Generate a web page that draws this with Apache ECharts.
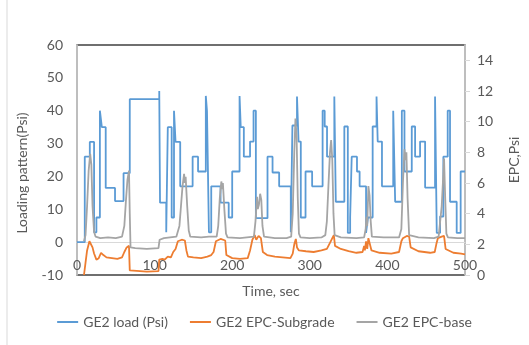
<!DOCTYPE html>
<html>
<head>
	<meta charset="utf-8">
	<title>GE2 loading pattern</title>
	<script src="https://cdn.jsdelivr.net/npm/echarts@6.0.0/dist/echarts.min.js"></script>
	<style type="text/css">
		* {
			margin: 0;
			padding: 0;
		}

		body {
			background: #fff;
			overflow: hidden;
		}
	</style>
</head>
<body>
<div id="main" style="width: 529px;height: 345px;"></div>
<script type="text/javascript">
    // [time (sec), value]
    var loadData = [
        [0, 0], [10, 26], [16.5, 30.5], [22, 3], [25, 7.5], [29.5, 40], [32, 35], [37, 16.5], [49, 12.5], [60, 21],
        [68, 43.5], [106, 46], [107, 12], [115, 3], [117, 35], [122, 7.5], [125, 40], [127, 30.5], [133, 17], [149, 26],
        [156, 21.5], [166, 44.5], [167.5, 40], [170, 3], [173, 17], [185, 12], [195.5, 7.5], [200, 21.5], [209.5, 44.5], [211, 35],
        [215, 26], [223, 30.6], [227.5, 40], [230.5, 7.3], [245.5, 26], [252, 21.2], [260.5, 17], [275.5, 3], [277.6, 35.5], [283.5, 44.3],
        [285.5, 30.6], [288.4, 7.5], [294.5, 21.5], [303, 17], [316.5, 40], [319.2, 35.2], [322.2, 26], [331.6, 44.3], [333.5, 12.3], [344.5, 35.2],
        [349, 2.8], [352, 7.6], [354, 26], [360.8, 21.5], [364.2, 17], [372.5, 2.8], [375, 7.5], [381, 35.2], [386, 44.3], [387.5, 30.6],
        [393, 17], [407.5, 40], [410, 12.3], [418.6, 40], [422, 21.5], [431.4, 35.2], [435.7, 26], [442.1, 30.6], [448.6, 16.6], [461.4, 44.3],
        [463.6, 2.8], [467.9, 7.8], [472.1, 26], [477.7, 40], [480.7, 12.3], [489.3, 2.8], [494.4, 21.5], [500, 21.5]
    ];
    var subgradeData = [
        [9, 0], [11, 0.8], [13, 1.6], [16, 2.2], [18, 2.25], [20, 1.8], [22, 1.4], [25, 1.0], [28, 1.1], [31, 1.45],
        [34, 1.3], [38, 1.15], [45, 1.1], [52, 1.05], [58, 1.15], [61, 1.5], [64, 1.8], [67, 1.9], [68, 0.3], [70, 0.25],
        [90, 0.22], [105, 0.25], [106, 1.0], [110, 1.05], [113, 1.0], [117, 1.2], [121, 1.15], [124, 1.5], [127, 1.7], [130, 2.2],
        [135, 2.3], [139, 2.25], [141, 1.6], [143, 1.2], [150, 1.15], [160, 1.1], [168, 1.2], [173, 1.3], [176, 1.5], [179, 2.2],
        [185, 2.35], [191, 2.25], [192.5, 1.3], [200, 1.1], [210, 1.05], [220, 1.1], [223, 1.6], [226, 2.3], [229, 2.6], [231, 2.3],
        [234, 2.55], [237, 2.4], [239.5, 1.5], [245, 1.3], [255, 1.2], [265, 1.15], [275, 1.1], [278, 1.4], [280, 2.0], [282, 2.35],
        [283.5, 1.8], [286, 1.6], [295, 1.55], [305, 1.5], [315, 1.6], [322, 1.7], [326, 2.1], [329, 2.4], [331, 2.6], [332.5, 1.9],
        [340, 1.7], [350, 1.55], [360, 1.45], [368, 1.5], [370, 1.9], [371, 1.6], [372.5, 2.2], [374, 1.7], [375.5, 2.4], [378, 2.3],
        [379.5, 1.6], [390, 1.45], [405, 1.4], [415, 1.5], [418, 2.2], [420, 2.4], [425, 2.55], [428, 2.5], [430, 1.8], [440, 1.55],
        [455, 1.45], [461, 1.5], [463, 2.0], [465, 2.4], [470, 2.5], [473, 2.55], [475, 1.7], [485, 1.45], [495, 1.4], [500, 1.35]
    ];
    var baseData = [
        [9, 2.2], [11, 2.6], [13, 4.5], [15, 6.8], [17, 7.9], [18.5, 7.2], [20, 4.5], [22, 2.8], [24, 2.5], [30, 2.4],
        [40, 2.45], [50, 2.4], [58, 2.5], [61, 3.2], [63, 4.8], [65, 6.2], [67, 6.8], [68, 4], [69, 1.8], [75, 1.75],
        [90, 1.7], [105, 1.75], [106.5, 2.3], [112, 2.4], [120, 2.45], [128, 2.5], [132, 3.2], [134, 4.5], [136, 5.8], [138, 6.6],
        [139, 6.0], [140, 6.4], [142, 4.5], [144, 2.9], [146, 2.5], [160, 2.45], [170, 2.5], [180, 2.5], [182, 3.2], [184, 5],
        [186, 6.1], [187.5, 5.6], [188, 6.0], [190, 4.2], [192, 2.7], [194, 2.45], [210, 2.4], [228, 2.5], [230, 3.5], [232, 5.1],
        [233, 4.3], [234.5, 4.6], [236, 5.3], [237.5, 4.9], [239, 3.2], [241, 2.5], [255, 2.4], [270, 2.4], [276, 2.5], [278, 4],
        [280, 8], [281.5, 10.2], [283, 9], [284.5, 5], [286, 2.7], [288, 2.45], [300, 2.4], [315, 2.45], [320, 2.6], [322, 3.5],
        [324, 5.8], [326, 8], [327.5, 8.8], [329, 7.5], [330.5, 4], [332, 2.6], [340, 2.45], [360, 2.4], [370, 2.45], [372, 3.0],
        [373, 3.8], [374, 3.2], [375.5, 5.8], [377, 5.2], [378.5, 3.5], [380, 2.5], [395, 2.45], [415, 2.45], [418, 3], [420, 6],
        [422, 8.2], [423, 7.5], [424.5, 8], [426, 5], [428, 2.6], [440, 2.45], [460, 2.4], [466, 2.5], [468, 3.5], [470, 4.5],
        [471, 4.6], [472, 6.5], [473, 7.6], [474.5, 5], [476, 2.7], [478, 2.45], [490, 2.4], [500, 2.4]
    ];
    var seriesNames = ['GE2 load (Psi)', 'GE2 EPC-Subgrade', 'GE2 EPC-base'];
    var colorL = ['#5B9BD5', '#ED7D31', '#A5A5A5'];

    var myChart = echarts.init(document.getElementById('main'));
    var textColor = '#595959';
    var fontName = 'Lato';

    option = {
        animation: false,
        textStyle: {
            fontFamily: fontName
        },
        grid: {
            left: 77,
            right: 63,
            top: 45,
            bottom: 70,
            show: true,
            borderColor: '#404040',
            borderWidth: 1.5
        },
        // thin frame line on the left of the chart area
        graphic: [{
            type: 'line',
            shape: {x1: 7, y1: 0, x2: 7, y2: 345},
            style: {stroke: '#D9D9D9', lineWidth: 1}
        }],
        legend: {
            bottom: 11,
            left: 'center',
            itemWidth: 21,
            itemHeight: 2,
            itemGap: 22,
            icon: 'rect',
            textStyle: {
                color: textColor,
                fontSize: 14,
                fontFamily: fontName
            },
            data: seriesNames
        },
        xAxis: {
            type: 'value',
            min: 0,
            max: 500,
            interval: 100,
            // axis sits on the 0 line of the left axis (10 of 70 units above the bottom)
            offset: -33,
            name: 'Time, sec',
            nameLocation: 'middle',
            nameGap: 42,
            nameTextStyle: {
                color: textColor,
                fontSize: 14
            },
            axisLine: {
                onZero: false,
                lineStyle: {
                    color: '#D9D9D9',
                    width: 1
                }
            },
            axisTick: {
                show: false
            },
            axisLabel: {
                margin: 16,
                color: textColor,
                fontSize: 14
            },
            splitLine: {
                show: false
            }
        },
        yAxis: [{
            type: 'value',
            min: -10,
            max: 60,
            interval: 10,
            name: 'Loading pattern(Psi)',
            nameLocation: 'middle',
            nameGap: 48,
            nameTextStyle: {
                color: textColor,
                fontSize: 14,
                padding: [0, 26, 0, 0]
            },
            axisLine: {
                show: true,
                lineStyle: {
                    color: '#D9D9D9',
                    width: 1.5
                }
            },
            axisTick: {
                show: false
            },
            axisLabel: {
                margin: 14,
                color: textColor,
                fontSize: 14
            },
            splitLine: {
                show: false
            }
        }, {
            type: 'value',
            min: 0,
            max: 15,
            interval: 2,
            name: 'EPC,Psi',
            nameLocation: 'middle',
            nameGap: 42,
            nameTextStyle: {
                color: textColor,
                fontSize: 14
            },
            axisLine: {
                show: true,
                lineStyle: {
                    color: '#D9D9D9',
                    width: 1.5
                }
            },
            axisTick: {
                show: true,
                length: 5,
                lineStyle: {
                    color: '#D9D9D9'
                }
            },
            axisLabel: {
                margin: 12,
                color: textColor,
                fontSize: 14,
                showMaxLabel: false
            },
            splitLine: {
                show: false
            }
        }],
        series: [
            {
                name: seriesNames[0],
                type: 'line',
                yAxisIndex: 0,
                step: 'end',
                showSymbol: false,
                data: loadData,
                itemStyle: {color: colorL[0]},
                lineStyle: {color: colorL[0], width: 1.8}
            },
            {
                name: seriesNames[1],
                type: 'line',
                yAxisIndex: 1,
                showSymbol: false,
                data: subgradeData,
                itemStyle: {color: colorL[1]},
                lineStyle: {color: colorL[1], width: 1.8}
            },
            {
                name: seriesNames[2],
                type: 'line',
                yAxisIndex: 1,
                showSymbol: false,
                data: baseData,
                itemStyle: {color: colorL[2]},
                lineStyle: {color: colorL[2], width: 1.8}
            }
        ]
    };
    myChart.setOption(option);
</script>
</body>
</html>
